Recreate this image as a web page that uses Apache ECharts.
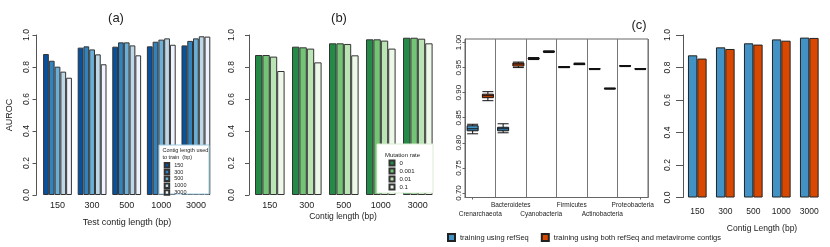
<!DOCTYPE html>
<html><head><meta charset="utf-8">
<script src="https://cdn.jsdelivr.net/npm/echarts@6/dist/echarts.min.js"></script>
<style>html,body{margin:0;padding:0;background:#fff}#c{width:830px;height:247px}</style>
</head><body><div id="c"></div>
<script>
// ---------- data ----------
const testLengths = ['150', '300', '500', '1000', '3000'];
const trainLengths = ['150', '300', '500', '1000', '3000'];
const aTrain150 = [0.881, 0.921, 0.927, 0.929, 0.935];
const aTrain300 = [0.839, 0.929, 0.954, 0.958, 0.963];
const aTrain500 = [0.802, 0.910, 0.954, 0.971, 0.979];
const aTrain1000 = [0.771, 0.879, 0.935, 0.979, 0.992];
const aTrain3000 = [0.733, 0.817, 0.873, 0.939, 0.990];

const contigLengths = ['150', '300', '500', '1000', '3000'];
const mutationRates = ['0', '0.001', '0.01', '0.1'];
const bRate0 = [0.875, 0.927, 0.948, 0.973, 0.983];
const bRate0001 = [0.875, 0.923, 0.948, 0.973, 0.983];
const bRate001 = [0.865, 0.915, 0.944, 0.965, 0.977];
const bRate01 = [0.775, 0.829, 0.873, 0.915, 0.948];

const phyla = ['Crenarchaeota', 'Bacteroidetes', 'Cyanobacteria', 'Firmicutes', 'Actinobacteria', 'Proteobacteria'];
// [min, Q1, median, Q3, max]
const boxRefSeq = [
  [0.818, 0.824, 0.828, 0.834, 0.837],
  [0.820, 0.824, 0.828, 0.831, 0.838],
  [0.966, 0.967, 0.968, 0.969, 0.970],
  [0.950, 0.950, 0.951, 0.952, 0.952],
  [0.946, 0.947, 0.947, 0.948, 0.948],
  [0.952, 0.953, 0.953, 0.954, 0.954]
];
const boxBoth = [
  [0.884, 0.890, 0.894, 0.897, 0.902],
  [0.950, 0.953, 0.957, 0.959, 0.961],
  [0.980, 0.981, 0.982, 0.983, 0.983],
  [0.956, 0.956, 0.957, 0.958, 0.959],
  [0.907, 0.908, 0.908, 0.909, 0.909],
  [0.946, 0.947, 0.947, 0.948, 0.948]
];
const yTicksC = [0.70, 0.75, 0.80, 0.85, 0.90, 0.95, 1.00];

const dLengths = ['150', '300', '500', '1000', '3000'];
const dRefSeq = [0.875, 0.924, 0.949, 0.973, 0.984];
const dBoth = [0.855, 0.914, 0.941, 0.965, 0.982];
const trainingNames = ['training using refSeq', 'training using both refSeq and metavirome contigs'];

// ---------- styles ----------
const blues = ['#08519c', '#3182bd', '#6baed6', '#bdd7e7', '#eff3ff'];
const greens = ['#238b45', '#74c476', '#bae4b3', '#edf8e9'];
const pair = ['#4292c6', '#d94801'];
const txt = '#222';
const axisC = '#555';
const FONT = 'Liberation Sans';

const chart = echarts.init(document.getElementById('c'), null, {renderer: 'canvas'});

const aSeries = [aTrain150, aTrain300, aTrain500, aTrain1000, aTrain3000];
const bSeries = [bRate0, bRate0001, bRate001, bRate01];

function yValAxis(grid, offset, margin, tick, extra) {
  return Object.assign({
    type: 'value', gridIndex: grid, min: 0, max: 1, interval: 0.2, offset: offset,
    axisLine: {show: true, lineStyle: {color: axisC, width: 1}},
    axisTick: {show: true, length: tick, lineStyle: {color: axisC}},
    splitLine: {show: false},
    axisLabel: {rotate: 90, margin: margin, fontSize: 8.5, color: txt, fontFamily: FONT,
      formatter: v => v.toFixed(1)}
  }, extra || {});
}
function xCatAxis(grid, data, margin, fs) {
  return {
    type: 'category', gridIndex: grid, data: data,
    axisLine: {show: false}, axisTick: {show: false},
    axisLabel: {margin: margin, fontSize: fs, color: txt, fontFamily: FONT, interval: 0}
  };
}

const boxData = [];
phyla.forEach((p, i) => {
  boxData.push({value: boxRefSeq[i], itemStyle: {color: pair[0], borderColor: '#111', borderWidth: 1}});
  boxData.push({value: boxBoth[i], itemStyle: {color: pair[1], borderColor: '#111', borderWidth: 1}});
});
const boxSlots = [];
phyla.forEach(p => { boxSlots.push(p + ' refSeq'); boxSlots.push(p + ' both'); });

const series = [];
aSeries.forEach((d, i) => series.push({
  type: 'bar', name: trainLengths[i], xAxisIndex: 0, yAxisIndex: 0, data: d,
  barGap: '0%', barCategoryGap: '16.7%',
  itemStyle: {color: blues[i], borderColor: '#333', borderWidth: 1}
}));
bSeries.forEach((d, i) => series.push({
  type: 'bar', name: mutationRates[i], xAxisIndex: 1, yAxisIndex: 1, data: d,
  barGap: '0%', barCategoryGap: '20%',
  itemStyle: {color: greens[i], borderColor: '#333', borderWidth: 1}
}));
series.push({
  type: 'boxplot', name: 'phylum AUROC', xAxisIndex: 2, yAxisIndex: 2,
  boxWidth: [11, 11], data: boxData
});
[dRefSeq, dBoth].forEach((d, i) => series.push({
  type: 'bar', name: trainingNames[i], xAxisIndex: 4, yAxisIndex: 3, data: d,
  barGap: '0%', barCategoryGap: '33.3%',
  itemStyle: {color: pair[i], borderColor: '#222', borderWidth: 1}
}));

const option = {
  animation: false,
  backgroundColor: '#fff',
  textStyle: {fontFamily: FONT},
  grid: [
    {left: 40.2, top: 35, width: 173, height: 160},
    {left: 251.3, top: 35, width: 185, height: 160},
    {left: 465, top: 39, width: 183, height: 158.5, show: true, borderColor: '#666', borderWidth: 1, backgroundColor: 'transparent'},
    {left: 683.3, top: 35, width: 140, height: 162.5}
  ],
  xAxis: [
    xCatAxis(0, testLengths, 6, 9),
    xCatAxis(1, contigLengths, 6, 9),
    {
      type: 'category', gridIndex: 2, data: boxSlots, position: 'bottom',
      axisLine: {show: true, lineStyle: {color: '#666'}},
      axisTick: {show: true, alignWithLabel: true, length: 2, lineStyle: {color: '#666'}},
      axisLabel: {show: false}, splitLine: {show: false}
    },
    {
      type: 'category', gridIndex: 2, data: phyla, position: 'bottom',
      axisLine: {show: false}, axisTick: {show: false},
      splitLine: {show: true, lineStyle: {color: '#777', width: 1}},
      axisLabel: {interval: 0, margin: 3, fontSize: 6.5, lineHeight: 9, color: txt, fontFamily: FONT,
        formatter: (v, i) => (i % 2 === 0 ? '\n' + v : v)}
    },
    xCatAxis(3, dLengths, 10, 8.5)
  ],
  yAxis: [
    yValAxis(0, 3.7, 5.5, 4),
    yValAxis(1, 2.3, 12.5, 4),
    {
      type: 'value', gridIndex: 2, min: 0.691, max: 1.007,
      axisLine: {show: true, lineStyle: {color: '#666'}},
      axisTick: {show: true, length: 2.5, customValues: yTicksC, lineStyle: {color: '#666'}},
      splitLine: {show: false},
      axisLabel: {rotate: 90, margin: 2.5, fontSize: 8, color: txt, fontFamily: FONT,
        customValues: yTicksC, formatter: v => Number(v).toFixed(2)}
    },
    yValAxis(3, 0.3, 10.5, 7)
  ],
  legend: [
    {data: trainLengths, icon: 'rect', orient: 'vertical', left: 163.7, top: 162, itemWidth: 4.5, itemHeight: 4.5,
     itemGap: 0.3, padding: 0, z: 30, selectedMode: false,
     textStyle: {fontSize: 5.5, lineHeight: 6, color: txt, fontFamily: FONT}},
    {data: mutationRates, icon: 'rect', orient: 'vertical', left: 388.5, top: 159.5, itemWidth: 5, itemHeight: 5,
     itemGap: 1, padding: 0, z: 30, selectedMode: false,
     textStyle: {fontSize: 6, lineHeight: 7, color: txt, fontFamily: FONT}},
    {data: trainingNames, icon: 'rect', orient: 'horizontal', left: 447, top: 233, itemWidth: 7, itemHeight: 7,
     itemGap: 12, padding: 0, selectedMode: false,
     textStyle: {fontSize: 7.5, color: txt, fontFamily: FONT}}
  ],
  graphic: [
    {type: 'rect', z: 20, shape: {x: 159, y: 145, width: 50, height: 49},
     style: {fill: '#fff', stroke: '#9ecae1', lineWidth: 1}},
    {type: 'rect', z: 20, shape: {x: 377, y: 144, width: 56, height: 49},
     style: {fill: '#fff', stroke: '#d9efd3', lineWidth: 1}},
    {type: 'text', z: 25, x: 162.5, y: 146.5,
     style: {text: 'Contig length used\nto train  (bp)', fontSize: 5.5, lineHeight: 7, fill: txt, fontFamily: FONT}},
    {type: 'text', z: 25, x: 385, y: 152,
     style: {text: 'Mutation rate', fontSize: 6, fill: txt, fontFamily: FONT}},
    {type: 'text', x: 116, y: 18, style: {text: '(a)', fontSize: 13, fill: txt, fontFamily: FONT, align: 'center', verticalAlign: 'middle'}},
    {type: 'text', x: 339, y: 18, style: {text: '(b)', fontSize: 13, fill: txt, fontFamily: FONT, align: 'center', verticalAlign: 'middle'}},
    {type: 'text', x: 639, y: 25, style: {text: '(c)', fontSize: 13, fill: txt, fontFamily: FONT, align: 'center', verticalAlign: 'middle'}},
    {type: 'text', x: 10, y: 115, rotation: Math.PI / 2,
     style: {text: 'AUROC', fontSize: 9, fill: txt, fontFamily: FONT, align: 'center', verticalAlign: 'middle'}},
    {type: 'text', x: 127, y: 223, style: {text: 'Test contig length (bp)', fontSize: 9, fill: txt, fontFamily: FONT, align: 'center', verticalAlign: 'middle'}},
    {type: 'text', x: 343, y: 217, style: {text: 'Contig length (bp)', fontSize: 8.5, fill: txt, fontFamily: FONT, align: 'center', verticalAlign: 'middle'}},
    {type: 'text', x: 762, y: 229, style: {text: 'Contig Length (bp)', fontSize: 8.5, fill: txt, fontFamily: FONT, align: 'center', verticalAlign: 'middle'}}
  ],
  series: series
};
chart.setOption(option);
</script>
</body></html>
